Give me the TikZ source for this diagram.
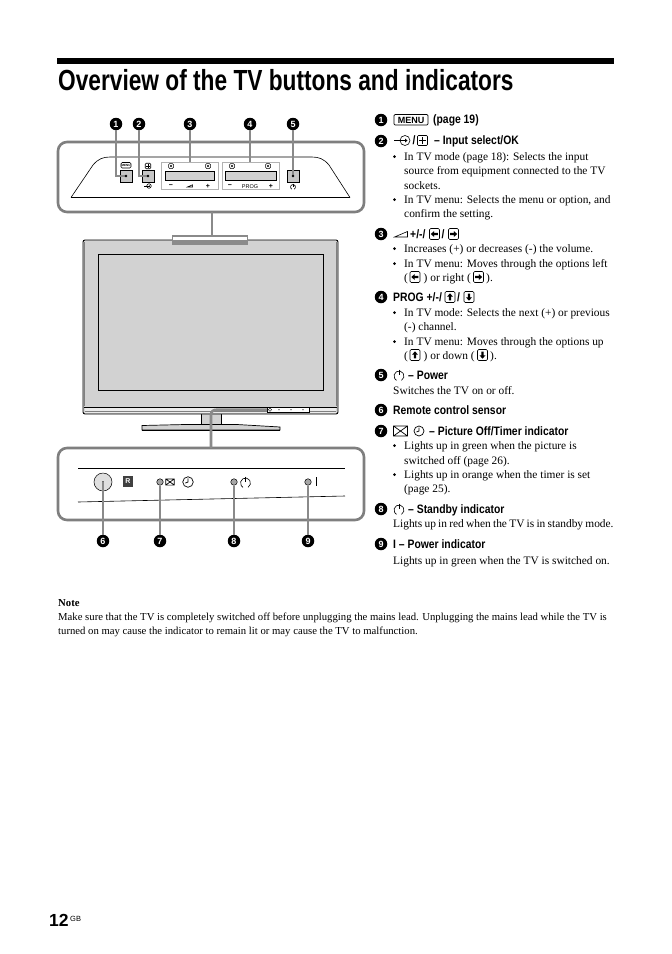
\documentclass[tikz,border=0pt]{standalone}
\usepackage{fontspec}
\setmainfont{Liberation Serif}
\newfontfamily\narrowbold[FakeStretch=0.85]{Liberation Sans Bold}
\newfontfamily\titlebold[FakeStretch=0.78]{Liberation Sans Bold}
\newfontfamily\plainsans{Liberation Sans}
\newcounter{tc}
\definecolor{lead}{HTML}{8A8A8A}
\definecolor{rim}{HTML}{7F7F7F}
\definecolor{lcd}{HTML}{D2D2D2}
\tikzset{
 body/.style={anchor=base west,inner sep=0,font=\fontsize{11.4}{13}\selectfont},
 notetxt/.style={anchor=base west,inner sep=0,font=\fontsize{10.7}{12}\selectfont},
 headtxt/.style={anchor=base west,inner sep=0,font=\narrowbold\fontsize{12.2}{13}\selectfont},
 numc/.style={circle,fill=black,text=white,inner sep=0,minimum size=12.5pt,font=\plainsans\bfseries\fontsize{9}{9}\selectfont},
 leadline/.style={draw=lead,line width=1.3pt},
 heavylead/.style={draw=lead,line width=2.6pt},
 panelrim/.style={draw=rim,line width=2.6pt,rounded corners=9pt},
 keybox/.style={draw=black,line width=.6pt,rounded corners=1.2pt},
 thin line/.style={draw=black,line width=.6pt},
 dotled/.style={circle,draw=black,fill=gray!70,line width=.5pt,inner sep=0,minimum size=6.5pt},
}
\newcommand{\bt}[3]{\stepcounter{tc}\node[body] (t\arabic{tc}) at (#1,#2) {#3};}
\newcommand{\nt}[3]{\stepcounter{tc}\node[notetxt] (t\arabic{tc}) at (#1,#2) {#3};}
\newcommand{\hd}[3]{\stepcounter{tc}\node[headtxt] (t\arabic{tc}) at (#1,#2) {#3};}
\newcommand{\bu}[1]{\fill (394.5,#1-3.4) circle (1.4);}
\newcommand{\akey}[3]{\begin{scope}[shift={(#1,#2)}]
 \draw[keybox] (-5,-5.5) rectangle (5,5.5);
 \begin{scope}[rotate=#3]\fill (-3.6,0)--(-.4,-3)--(-.4,-1.2)--(3.4,-1.2)--(3.4,1.2)--(-.4,1.2)--(-.4,3)--cycle;\end{scope}
 \end{scope}}
\newcommand{\powic}[3]{\begin{scope}[shift={(#1,#2)},scale=#3]
 \draw[line width=.6pt] (60:5) arc (60:-240:5);\draw[line width=.6pt] (0,-6.5)--(0,-1);
 \end{scope}}
\newcommand{\picoff}[3]{\begin{scope}[shift={(#1,#2)},scale=#3]
 \draw[line width=.7pt] (-7,-5) rectangle (7,5) (-7,-5)--(7,5) (-7,5)--(7,-5);
 \end{scope}}
\newcommand{\timeic}[3]{\begin{scope}[shift={(#1,#2)},scale=#3]
 \draw[line width=.7pt] (0,0) circle (5);\draw[line width=.8pt] (0,-3.5)--(0,0)--(-2.5,1);
 \end{scope}}
\newcommand{\wedgeic}[3]{\begin{scope}[shift={(#1,#2)},scale=#3]
 \draw[line width=.6pt] (-6.5,2.5)--(6.5,-3)--(6.5,2.5)--cycle;
 \end{scope}}
\newcommand{\inputic}[3]{\begin{scope}[shift={(#1,#2)},scale=#3]
 \draw[line width=.6pt] (-11,0)--(2,0);\draw[line width=.6pt] (0,0) circle (5);\fill (2.5,0)--(0,-2)--(0,2)--cycle;
 \end{scope}}
\newcommand{\okic}[3]{\begin{scope}[shift={(#1,#2)},scale=#3]
 \draw[line width=.6pt,rounded corners=1pt] (-5,-5) rectangle (5,5);
 \draw[line width=.7pt] (0,-3.5)--(0,3.5) (-3.5,0)--(3.5,0);
 \end{scope}}
\begin{document}
\begin{tikzpicture}[x=1pt,y=-1pt]
\useasboundingbox (0,0) rectangle (672,954);
\fill[white] (0,0) rectangle (672,954);
% title
\fill[black] (57,58) rectangle (614,63.5);
\node[anchor=base west,inner sep=0,font=\titlebold\fontsize{29.1}{32}\selectfont] (title) at (58,90) {Overview of the TV buttons and indicators};

% ---- top panel ----
\node[numc] (a1) at (116,124) {1};
\node[numc] (a2) at (139,124) {2};
\node[numc] (a3) at (190,124) {3};
\node[numc] (a4) at (250,124) {4};
\node[numc] (a5) at (293,124) {5};
\draw[panelrim] (58,142) rectangle (364,212);
\draw[thin line] (71,197.5)--(350,197.5);
\draw[thin line] (71,197.5)--(93,165) .. controls (98,159) and (103,157) .. (110,157)--(312,157) .. controls (319,157) and (324,159) .. (329,165)--(350,197.5);
\coordinate (b1) at (126,176);\coordinate (b2) at (148,176);\coordinate (b5) at (293,176);
\draw[line width=1pt,fill=gray!45] (120,170) rectangle (132,182);
\draw[line width=1pt,fill=gray!45] (142,170) rectangle (154,182);
\draw[line width=1pt,fill=gray!45] (287,170) rectangle (299,182);
\draw[keybox] (121,162.5) rectangle (131,168);
\node[inner sep=0,font=\plainsans\bfseries\fontsize{3}{3}\selectfont] (mlabel) at (126,165.3) {MENU};
\okic{148}{166}{.55}
\inputic{149}{186}{.45}
\powic{293}{187}{.5}
\draw[draw=gray!60,line width=.7pt] (161,162) rectangle (218,189);
\draw[draw=gray!60,line width=.7pt] (222,162) rectangle (279,189);
\draw[line width=.7pt,fill=lcd] (165,171) rectangle (214,180);
\draw[line width=.7pt,fill=lcd] (225,171) rectangle (276,180);
\foreach \px in {171,208,232,268}{\draw[keybox,line width=.5pt] (\px-2.5,163.5) rectangle (\px+2.5,168.5);\fill (\px,166) circle (1.2);}
\node[inner sep=0,font=\plainsans\bfseries\fontsize{7}{7}\selectfont] (g3a) at (171,186) {−};
\node[inner sep=0,font=\plainsans\bfseries\fontsize{7}{7}\selectfont] (g3b) at (208,186) {+};
\node[inner sep=0,font=\plainsans\bfseries\fontsize{7}{7}\selectfont] (g4a) at (230,186) {−};
\node[inner sep=0,font=\plainsans\bfseries\fontsize{7}{7}\selectfont] (g4b) at (271,186) {+};
\node[inner sep=0,font=\plainsans\fontsize{5.5}{6}\selectfont] (g4c) at (250,186.3) {PROG};
\wedgeic{190}{186}{.4}
\coordinate (c3) at (190,162);\coordinate (c4) at (250,162);
\draw[leadline] (a1)|-(b1);
\draw[leadline] (a2)|-(b2);
\draw[leadline] (a3)--(c3);
\draw[leadline] (a4)--(c4);
\draw[leadline] (a5)--(b5);
\fill (b1) circle (1.3) (b2) circle (1.3) (b5) circle (1.3);

% ---- TV ----
\fill[lcd] (201,414) rectangle (221,424);
\draw[line width=.6pt] (201,414)--(201,424) (221,414)--(221,424);
\draw[line width=.7pt,fill=lcd] (142,425.5)--(185,424.5)--(237,424.5)--(280,427)--(280,430)--(142,430)--cycle;
\draw[line width=1pt] (142,430)--(280,430);
\draw[line width=.9pt,rounded corners=2pt,fill=lcd] (83,240) rectangle (338,414);
\draw[gray,line width=1pt] (84.5,242)--(84.5,406);
\draw[gray,line width=1pt] (336.5,242)--(336.5,406);
\draw[line width=.8pt,fill=lcd] (98,254) rectangle (323,390);
\draw[line width=.6pt] (84,407.5)--(337,407.5);
\fill[white!92!black] (85,408) rectangle (336,413);
\draw[gray,line width=.5pt] (85,411)--(336,411);
\draw[line width=.4pt,fill=white] (267,407.5) rectangle (309,412);
\foreach \px in {279,291,303}{\fill (\px,409.7) circle (.7);}
\draw[line width=.4pt] (270,409.7) circle (1.6);
% top bracket
\coordinate (topjoin) at (212,212);
\coordinate (bracket) at (212,236);
\draw[heavylead] (topjoin)--(bracket);
\fill[lead] (172,240) rectangle (248,245);
\draw[leadline,fill=white] (172.6,236) rectangle (247.4,240.5);

% ---- bottom panel ----
\draw[panelrim] (58,448) rectangle (364,520);
\coordinate (botjoin) at (211,448);\coordinate (tvled) at (267,409.7);
\draw[heavylead] (botjoin)--(211,415) .. controls (211,411.5) and (213,409.7) .. (217,409.7)--(tvled);
\draw[thin line] (78,468)--(345,468);
\draw[thin line] (78,502)--(345,496);
\node[circle,draw=black,fill=gray!25,line width=.5pt,minimum size=18pt,inner sep=0] (sens) at (103,482) {};
\fill (sens.center) circle (.9);
\fill[gray!50!black] (123,476) rectangle (133,487);
\node[inner sep=0,text=white,font=\plainsans\bfseries\fontsize{7}{7}\selectfont] (rlabel) at (128,481.5) {R};
\node[dotled] (d7) at (160,482) {};
\picoff{170}{482}{.62}
\timeic{188}{482}{1.05}
\node[dotled] (d8) at (234,482) {};
\powic{245.5}{483}{1}
\node[dotled] (d9) at (308,482) {};
\fill (315.5,477) rectangle (317.2,486);
\node[numc] (a6) at (103,541) {6};
\node[numc] (a7) at (160,541) {7};
\node[numc] (a8) at (234,541) {8};
\node[numc] (a9) at (308,541) {9};
\draw[leadline] (a6)--(sens.center);
\draw[leadline] (a7)--(d7);
\draw[leadline] (a8)--(d8);
\draw[leadline] (a9)--(d9);

% ---- right column ----
\node[numc] (r1) at (381,120) {1};
\draw[keybox,line width=.7pt] (394,114.5) rectangle (428,125);
\node[inner sep=0,font=\plainsans\bfseries\fontsize{9}{9}\selectfont] (menuword) at (411,120) {MENU};
\hd{433}{123.5}{(page 19)}

\node[numc] (r2) at (381,141) {2};
\inputic{405}{140.5}{1}
\hd{412.5}{144.5}{/}
\okic{422.5}{140.5}{1}
\hd{434}{144.5}{– Input select/OK}
\bu{160}\bt{404}{160}{In TV mode (page 18): Selects the input}
\bt{404}{174.5}{source from equipment connected to the TV}
\bt{404}{189}{sockets.}
\bu{203}\bt{404}{203}{In TV menu: Selects the menu or option, and}
\bt{404}{217}{confirm the setting.}

\node[numc] (r3) at (381,234) {3};
\wedgeic{401}{234.5}{1}
\hd{410}{238}{+/-/}
\akey{434.5}{234}{0}
\hd{441.5}{238}{/}
\akey{453.5}{234}{180}
\bu{252}\bt{404}{252}{Increases (+) or decreases (-) the volume.}
\bu{267}\bt{404}{267}{In TV menu: Moves through the options left}
\bt{404}{281}{(}\akey{415}{277}{0}\bt{423.5}{281}{) or right (}\akey{478.5}{277}{180}\bt{486}{281}{).}

\node[numc] (r4) at (381,297) {4};
\hd{393}{301}{PROG +/-/}
\akey{450}{297}{-90}
\hd{457}{301}{/}
\akey{469}{297}{90}
\bu{316}\bt{404}{316}{In TV mode: Selects the next (+) or previous}
\bt{404}{330}{(-) channel.}
\bu{345}\bt{404}{345}{In TV menu: Moves through the options up}
\bt{404}{359}{(}\akey{415}{355}{-90}\bt{423.5}{359}{) or down (}\akey{482.5}{355}{90}\bt{490}{359}{).}

\node[numc] (r5) at (381,375) {5};
\powic{399}{376}{1}
\hd{408}{379}{– Power}
\bt{393}{394}{Switches the TV on or off.}

\node[numc] (r6) at (381,410) {6};
\hd{393}{414}{Remote control sensor}

\node[numc] (r7) at (381,431) {7};
\picoff{400.5}{431}{1}
\timeic{419}{431}{1}
\hd{429}{435}{– Picture Off/Timer indicator}
\bu{449}\bt{404}{449}{Lights up in green when the picture is}
\bt{404}{464}{switched off (page 26).}
\bu{478}\bt{404}{478}{Lights up in orange when the timer is set}
\bt{404}{492}{(page 25).}

\node[numc] (r8) at (381,509) {8};
\powic{399}{510}{1}
\hd{408}{513}{– Standby indicator}
\bt{393}{527}{\spaceskip=2.25pt\relax Lights up in red when the TV is in standby mode.}

\node[numc] (r9) at (381,544) {9};
\hd{393}{548}{I – Power indicator}
\bt{393}{564}{Lights up in green when the TV is switched on.}

% ---- note ----
\node[anchor=base west,inner sep=0,font=\bfseries\fontsize{10.7}{12}\selectfont] (notehead) at (58,606) {Note};
\nt{58}{620}{Make sure that the TV is completely switched off before unplugging the mains lead. Unplugging the mains lead while the TV is}
\nt{58}{634}{turned on may cause the indicator to remain lit or may cause the TV to malfunction.}

% ---- page number ----
\node[anchor=base west,inner sep=0,font=\plainsans\bfseries\fontsize{17.5}{20}\selectfont] (pnum) at (49,926) {12};
\node[anchor=base west,inner sep=0,font=\plainsans\fontsize{7.5}{8}\selectfont] (pgb) at (70,921) {GB};
\end{tikzpicture}
\end{document}
